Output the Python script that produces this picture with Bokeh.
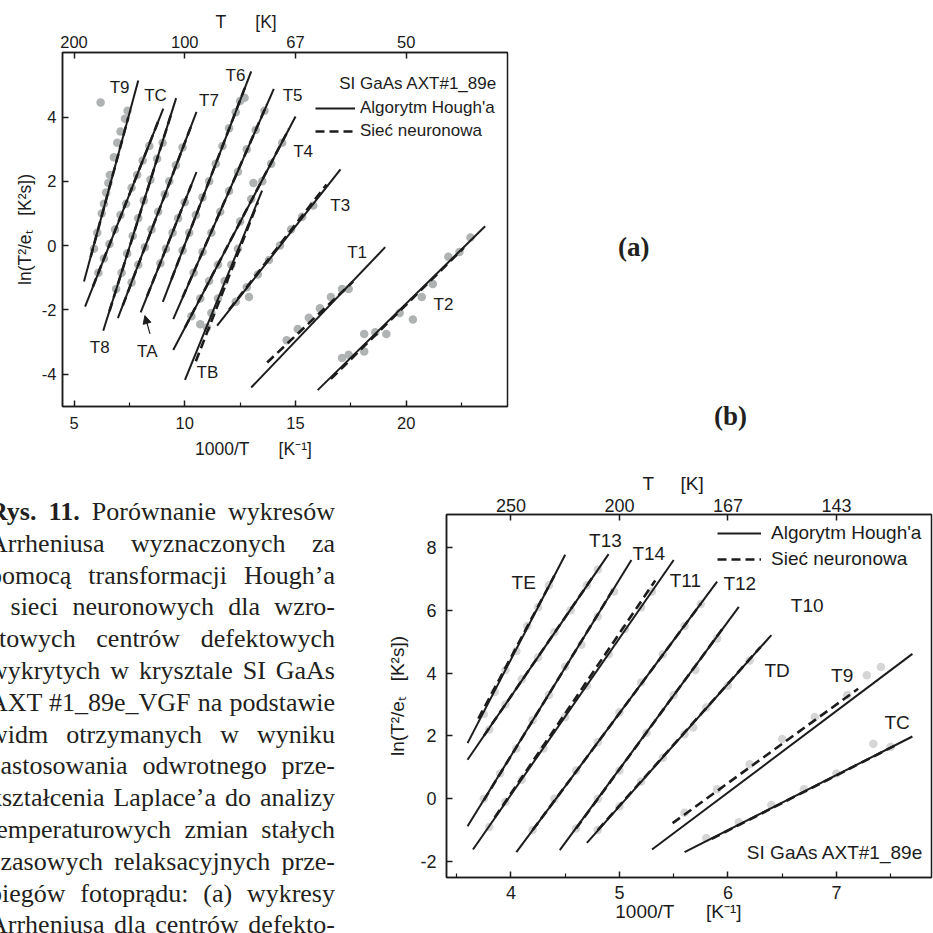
from bokeh.plotting import figure
from bokeh.models import Range1d, LinearAxis, FixedTicker, Legend, LegendItem, Arrow, NormalHead, Div
from bokeh.layouts import row, column
from bokeh.embed import file_html
from bokeh.resources import INLINE
from bokeh.core.properties import value

INK = "#1c1c1c"
FONT = "Liberation Sans"
NB = "\u00a0"

# ------------------------------------------------------------------ chart (a) data
a_names = ["T9", "TC", "T8", "T7", "TA", "T6", "T5", "T4", "TB", "T3", "T1", "T2"]
a_hough_x0 = [5.45, 5.50, 6.32, 6.98, 8.01, 9.01, 9.48, 9.48, 10.01, 11.46, 13.00, 16.00]
a_hough_y0 = [-1.12, -1.90, -2.65, -2.26, -2.08, -1.75, -2.29, -3.25, -4.18, -2.49, -4.42, -4.50]
a_hough_x1 = [7.90, 9.03, 9.61, 10.53, 10.53, 13.00, 14.02, 15.00, 13.49, 17.03, 19.05, 23.56]
a_hough_y1 = [5.14, 4.26, 4.59, 4.16, 2.29, 5.42, 4.88, 4.02, 1.71, 2.37, -0.05, 0.60]

a_nn_x0 = [5.75, 5.85, 6.60, 7.20, 8.30, 9.40, 9.90, 10.00, 10.50, 12.00, 13.72, 16.60]
a_nn_y0 = [-0.36, -1.28, -2.04, -1.87, -1.57, -1.05, -1.62, -2.56, -3.60, -2.00, -3.64, -4.15]
a_nn_x1 = [7.45, 8.85, 9.40, 10.30, 10.30, 12.75, 13.70, 14.70, 13.30, 16.40, 17.60, 22.60]
a_nn_y1 = [3.99, 3.95, 4.12, 3.74, 1.89, 4.98, 4.38, 3.63, 1.35, 1.90, -1.12, -0.07]

a_pts_x = [6.20, 6.25, 6.35, 6.45, 6.55, 6.62, 6.80, 6.95, 7.10, 7.30, 7.42, 5.90, 6.05,
           6.10, 6.35, 6.60, 6.85, 7.10, 7.35, 7.60, 7.85, 8.10, 8.40,
           6.90, 7.15, 7.40, 7.65, 7.90, 8.15, 8.45, 8.75, 9.00,
           7.60, 7.90, 8.20, 8.50, 8.80, 9.10, 9.30, 9.60, 9.90,
           8.90, 9.15, 9.45, 9.70, 10.00,
           9.90, 10.20, 10.50, 10.80, 11.10, 11.40, 11.70, 12.00, 12.30, 12.50, 12.70,
           10.40, 10.80, 11.20, 11.60, 12.00, 12.40, 12.80, 13.20, 13.60,
           10.30, 10.70, 11.10, 11.50, 12.50, 13.00, 13.10, 13.50, 13.90, 14.40,
           10.70, 11.00, 11.20, 11.50, 11.80, 12.10, 12.40,
           12.30, 12.80, 12.90, 13.30, 13.80, 14.30, 14.80, 15.30, 15.80,
           14.60, 15.10, 15.60, 16.10, 16.60, 17.10, 17.40,
           17.10, 17.40, 18.10, 18.10, 18.60, 19.10, 19.70, 20.30, 20.70, 21.20, 21.90, 22.40, 22.90]
a_pts_y = [4.45, 1.00, 1.30, 1.65, 1.95, 2.20, 2.75, 3.20, 3.55, 3.95, 4.20, -0.10, 0.40,
           -0.85, -0.40, 0.05, 0.50, 0.95, 1.30, 1.80, 2.20, 2.65, 3.10,
           -1.35, -0.85, -0.25, 0.30, 0.85, 1.40, 2.05, 2.70, 3.20,
           -1.15, -0.60, -0.05, 0.50, 1.05, 1.60, 2.00, 2.50, 3.05,
           -0.55, -0.10, 0.40, 0.85, 1.35,
           -0.15, 0.40, 0.95, 1.50, 2.00, 2.55, 3.10, 3.65, 4.15, 4.50, 4.60,
           -0.85, -0.20, 0.40, 1.05, 1.70, 2.30, 3.00, 3.60, 4.20,
           -2.20, -1.65, -1.10, -0.60, 0.75, 1.45, 1.95, 2.00, 2.55, 3.20,
           -2.45, -2.55, -2.10, -1.65, -1.10, -0.60, -0.10,
           -1.75, -1.30, -1.60, -0.90, -0.45, 0.00, 0.50, 0.90, 1.25,
           -2.95, -2.60, -2.25, -1.95, -1.60, -1.35, -1.35,
           -3.50, -3.40, -2.75, -3.30, -2.70, -2.75, -2.10, -2.30, -1.60, -1.20, -0.35, -0.20, 0.25]

a_label_names = ["T9", "TC", "T7", "T6", "T5", "T4", "T3", "T1", "T2", "T8", "TA", "TB"]
a_label_x = [7.06, 8.68, 11.09, 12.29, 14.87, 15.34, 17.02, 17.78, 21.68, 6.16, 8.31, 11.02]
a_label_y = [4.92, 4.68, 4.52, 5.30, 4.68, 2.94, 1.25, -0.23, -1.82, -3.17, -3.29, -3.95]

a_bottom_ticks = [5, 10, 15, 20]
a_bottom_minor = [7.5, 12.5, 17.5, 22.5]
a_top_ticks = [5, 10, 15, 20]
a_top_labels = ["200", "100", "67", "50"]
a_left_ticks = [-4, -2, 0, 2, 4]
a_left_labels = ["-4", "-2", "0", "2", "4"]

# ------------------------------------------------------------------ chart (b) data
b_names = ["TE", "T13", "T14", "T11", "T12", "T10", "TD", "T9", "TC"]
b_hough_x0 = [3.60, 3.60, 3.60, 3.65, 4.05, 4.45, 4.70, 5.30, 5.60]
b_hough_y0 = [1.77, 1.24, -0.88, -1.62, -1.70, -1.64, -1.41, -1.62, -1.70]
b_hough_x1 = [4.50, 4.90, 5.11, 5.50, 5.90, 6.10, 6.40, 7.70, 7.70]
b_hough_y1 = [7.77, 7.79, 7.60, 7.60, 6.91, 6.11, 5.21, 4.61, 1.98]

b_nn_x0 = [3.70, 3.75, 3.75, 3.85, 4.20, 4.60, 4.80, 5.49, 5.85]
b_nn_y0 = [2.55, 2.00, -0.05, -0.60, -1.00, -0.95, -1.00, -0.78, -1.28]
b_nn_x1 = [4.40, 4.75, 4.95, 5.33, 5.75, 5.95, 6.30, 7.20, 7.55]
b_nn_y1 = [7.10, 7.04, 6.71, 6.95, 6.21, 5.41, 4.83, 3.50, 1.71]

b_pts_x = [3.75, 3.85, 3.95, 4.05, 4.15, 4.25, 4.35,
           3.80, 3.95, 4.10, 4.25, 4.40, 4.55, 4.70, 4.80,
           3.75, 3.90, 4.05, 4.20, 4.35, 4.50, 4.65, 4.80, 4.95,
           3.80, 3.95, 4.10, 4.30, 4.50, 4.70, 4.90, 5.05, 5.20, 5.30,
           4.20, 4.40, 4.60, 4.80, 5.00, 5.20, 5.40, 5.60, 5.75,
           4.60, 4.80, 5.00, 5.25, 5.50, 5.70, 5.90,
           4.80, 5.00, 5.20, 5.40, 5.60, 5.68, 5.80, 6.00, 6.20,
           5.60, 5.90, 6.20, 6.50, 6.80, 7.10, 7.28, 7.41,
           5.80, 6.10, 6.40, 6.70, 7.00, 7.34, 7.50]
b_pts_y = [2.70, 3.40, 4.10, 4.70, 5.50, 6.10, 6.80,
           2.20, 3.00, 3.80, 4.50, 5.30, 6.00, 6.80, 7.30,
           0.00, 0.80, 1.60, 2.50, 3.30, 4.20, 4.90, 5.80, 6.60,
           -0.90, -0.10, 0.60, 1.60, 2.60, 3.60, 4.60, 5.40, 6.10, 6.60,
           -1.00, 0.00, 0.90, 1.80, 2.75, 3.70, 4.60, 5.50, 6.20,
           -0.95, 0.00, 0.90, 2.10, 3.30, 4.10, 5.10,
           -1.00, -0.25, 0.55, 1.30, 2.05, 2.27, 2.90, 3.60, 4.40,
           -0.45, 0.30, 1.10, 1.90, 2.60, 3.30, 3.93, 4.19,
           -1.25, -0.75, -0.20, 0.30, 0.80, 1.75, 1.65]

b_label_x = [4.118, 4.871, 5.270, 5.608, 6.109, 6.730, 6.453, 7.053, 7.559]
b_label_y = [6.90, 8.23, 7.80, 6.95, 6.85, 6.16, 4.09, 3.93, 2.44]

b_bottom_ticks = [4, 5, 6, 7]
b_bottom_minor = [3.5, 4.5, 5.5, 6.5, 7.5]
b_top_ticks = [4, 5, 6, 7]
b_top_labels = ["250", "200", "167", "143"]
b_left_ticks = [-2, 0, 2, 4, 6, 8]
b_left_labels = ["-2", "0", "2", "4", "6", "8"]

sample_name = "SI GaAs AXT#1_89e"
legend_labels = ["Algorytm Hough'a", "Sieć neuronowa"]
panel_names = ["(a)", "(b)"]

caption_lines = [
    "Rys. 11. Porównanie wykresów",
    "Arrheniusa wyznaczonych za",
    "pomocą transformacji Hough’a",
    "i sieci neuronowych dla wzro-",
    "stowych centrów defektowych",
    "wykrytych w krysztale SI GaAs",
    "AXT\u00a0#1_89e_VGF na podstawie",
    "widm otrzymanych w wyniku",
    "zastosowania odwrotnego prze-",
    "kształcenia Laplace’a do analizy",
    "temperaturowych zmian stałych",
    "czasowych relaksacyjnych prze-",
    "biegów fotoprądu: (a) wykresy",
    "Arrheniusa dla centrów defekto-",
]

Y_LABEL = "ln(T\u00b2/e\u209c" + NB * 3 + "[K\u00b2s])"
A_X_LABEL = "1000/T" + NB * 6 + "[K\u207b\u00b9]" + NB * 13
A_T_LABEL = "T" + NB * 6 + "[K]" + NB * 16
B_X_LABEL = "1000/T" + NB * 6 + "[K\u207b\u00b9]" + NB * 4
B_T_LABEL = "T" + NB * 5 + "[K]" + NB * 6


def style_axis(ax, tick_fs, lab_fs, tick_std, lab_std):
    ax.axis_line_color = INK
    ax.axis_line_width = 1.5
    ax.major_tick_line_color = INK
    ax.major_tick_line_width = 1.5
    ax.minor_tick_line_color = INK
    ax.minor_tick_line_width = 1.2
    ax.major_tick_in = 6
    ax.major_tick_out = 0
    ax.minor_tick_in = 4
    ax.minor_tick_out = 0
    ax.major_label_text_font = FONT
    ax.major_label_text_font_size = f"{tick_fs}px"
    ax.major_label_text_color = INK
    ax.major_label_standoff = tick_std
    ax.axis_label_text_font = FONT
    ax.axis_label_text_font_size = f"{lab_fs}px"
    ax.axis_label_text_font_style = "normal"
    ax.axis_label_text_color = INK
    ax.axis_label_standoff = lab_std


def base_fig(width, height, xr, yr, bl, br, bt, bb):
    p = figure(width=width, height=height, x_range=Range1d(*xr), y_range=Range1d(*yr),
               output_backend="svg", toolbar_location=None,
               min_border_left=bl, min_border_right=br, min_border_top=bt, min_border_bottom=bb)
    p.xgrid.visible = False
    p.ygrid.visible = False
    p.outline_line_color = INK
    p.outline_line_width = 1.5
    return p


# ------------------------------------------------------------------ figure (a)
pa = base_fig(560, 465, (4.48, 24.57), (-5.01, 6.01), 62, 53, 52, 59)
pa.xaxis[0].ticker = FixedTicker(ticks=a_bottom_ticks, minor_ticks=a_bottom_minor)
pa.xaxis[0].axis_label = A_X_LABEL
style_axis(pa.xaxis[0], 16.5, 17.5, 10, 7)
pa.yaxis[0].ticker = FixedTicker(ticks=a_left_ticks, minor_ticks=[])
pa.yaxis[0].major_label_overrides = dict(zip(a_left_ticks, a_left_labels))
pa.yaxis[0].axis_label = Y_LABEL
style_axis(pa.yaxis[0], 16.5, 17.5, 6, 4)
a_top = LinearAxis(ticker=FixedTicker(ticks=a_top_ticks, minor_ticks=[]),
                   major_label_overrides=dict(zip(a_top_ticks, a_top_labels)),
                   axis_label=A_T_LABEL)
style_axis(a_top, 16.5, 17.5, 5, 1)
pa.add_layout(a_top, "above")

pa.scatter(a_pts_x, a_pts_y, size=8.5, fill_color="#b0b3b3", line_color=None)
ra_h = pa.segment(a_hough_x0, a_hough_y0, a_hough_x1, a_hough_y1, line_color=INK, line_width=2)
ra_n = pa.segment(a_nn_x0, a_nn_y0, a_nn_x1, a_nn_y1, line_color=INK, line_width=2.6, line_dash="9 5")
pa.text(a_label_x, a_label_y, text=a_label_names, text_align="center", text_baseline="middle",
        text_font=value(FONT), text_font_size="17px", text_color=INK)
pa.text([24.10], [5.05], text=[sample_name], text_align="right", text_baseline="middle",
        text_font=value(FONT), text_font_size="17px", text_color=INK)
pa.add_layout(Arrow(end=NormalHead(size=8, fill_color=INK, line_color=INK),
                    x_start=8.43, y_start=-2.75, x_end=8.20, y_end=-2.18,
                    line_color=INK, line_width=1.2))
leg_a = Legend(items=[LegendItem(label=legend_labels[0], renderers=[ra_h]),
                      LegendItem(label=legend_labels[1], renderers=[ra_n])],
               location=(253, 265), glyph_width=40, glyph_height=20, label_height=20,
               label_standoff=5, spacing=3, padding=0, margin=0,
               border_line_color=None, background_fill_alpha=0,
               label_text_font=FONT, label_text_font_size="17px", label_text_color=INK)
pa.add_layout(leg_a)

# ------------------------------------------------------------------ figure (b)
pb = base_fig(553, 468, (3.406, 7.876), (-2.51, 9.05), 66, 2, 49, 56)
pb.xaxis[0].ticker = FixedTicker(ticks=b_bottom_ticks, minor_ticks=b_bottom_minor)
pb.xaxis[0].axis_label = B_X_LABEL
style_axis(pb.xaxis[0], 18, 19, 8, -1)
pb.yaxis[0].ticker = FixedTicker(ticks=b_left_ticks, minor_ticks=[])
pb.yaxis[0].major_label_overrides = dict(zip(b_left_ticks, b_left_labels))
pb.yaxis[0].axis_label = Y_LABEL
style_axis(pb.yaxis[0], 18, 19, 10, 9)
b_top = LinearAxis(ticker=FixedTicker(ticks=b_top_ticks, minor_ticks=[]),
                   major_label_overrides=dict(zip(b_top_ticks, b_top_labels)),
                   axis_label=B_T_LABEL)
style_axis(b_top, 18, 19, 3, 2)
pb.add_layout(b_top, "above")

pb.scatter(b_pts_x, b_pts_y, size=8.5, fill_color="#cccccc", fill_alpha=0.8, line_color=None)
rb_h = pb.segment(b_hough_x0, b_hough_y0, b_hough_x1, b_hough_y1, line_color=INK, line_width=2)
rb_n = pb.segment(b_nn_x0, b_nn_y0, b_nn_x1, b_nn_y1, line_color=INK, line_width=2.6, line_dash="9 5")
pb.text(b_label_x, b_label_y, text=b_names, text_align="center", text_baseline="middle",
        text_font=value(FONT), text_font_size="19px", text_color=INK)
pb.text([7.80], [-1.70], text=[sample_name], text_align="right", text_baseline="middle",
        text_font=value(FONT), text_font_size="19px", text_color=INK)
leg_b = Legend(items=[LegendItem(label=legend_labels[0], renderers=[rb_h]),
                      LegendItem(label=legend_labels[1], renderers=[rb_n])],
               location=(271, 307), glyph_width=44, glyph_height=22, label_height=22,
               label_standoff=10, spacing=4, padding=0, margin=0,
               border_line_color=None, background_fill_alpha=0,
               label_text_font=FONT, label_text_font_size="19px", label_text_color=INK)
pb.add_layout(leg_b)

# ------------------------------------------------------------------ panel labels (a), (b)
panel_pos = [(58, 232), (154, 401)]
panel_html = '<div style="position:relative;width:373px;height:465px;">' + "".join(
    f'<div style="position:absolute;left:{x}px;top:{y}px;font-family:\'Liberation Serif\',serif;'
    f'font-weight:bold;font-size:27px;line-height:31px;color:#231f20;">{t}</div>'
    for t, (x, y) in zip(panel_names, panel_pos)) + '</div>'
pl = Div(text=panel_html, width=373, height=465, margin=(0, 0, 0, 0))

# ------------------------------------------------------------------ caption text
rows_html = []
for i, line in enumerate(caption_lines):
    spans = []
    for j, w in enumerate(line.split(" ")):
        weight = "bold" if (i == 0 and j < 2) else "normal"
        spans.append(f'<span style="font-weight:{weight}">{w}</span>')
    rows_html.append('<div style="display:flex;justify-content:space-between;white-space:nowrap;'
                     'height:31.8px;line-height:31.8px;">' + "".join(spans) + '</div>')
caption_html = ('<div style="position:relative;left:-11px;top:31px;width:346px;height:437px;'
                'overflow:hidden;font-family:\'Liberation Serif\',serif;font-size:26px;'
                'color:#231f20;">' + "".join(rows_html) + '</div>')
caption = Div(text=caption_html, width=380, height=468, margin=(0, 0, 0, 0))

layout = column(row(pa, pl, spacing=0), row(caption, pb, spacing=0), spacing=0)

open("out.html", "w").write(file_html(layout, INLINE))
